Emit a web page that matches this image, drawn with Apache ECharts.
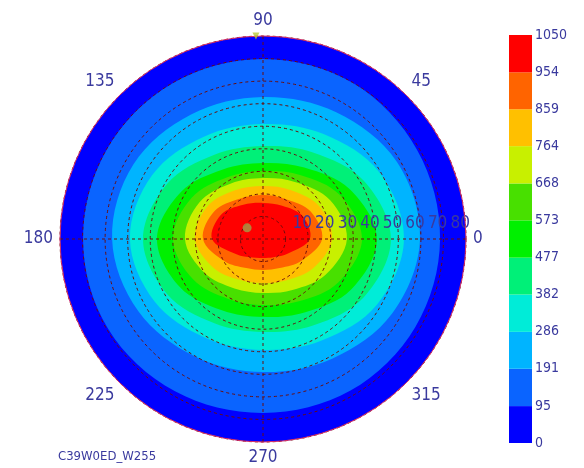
<!DOCTYPE html>
<html>
<head>
<meta charset="utf-8">
<script src="https://cdn.jsdelivr.net/npm/echarts@6/dist/echarts.min.js"></script>
<style>
html, body { margin: 0; background: #fff; }
#chart { width: 584px; height: 468px; }
</style>
</head>
<body>
<div id="chart"></div>
<script>
// angles (deg) at which each contour boundary was read
const contourAngles = [0, 30, 60, 90, 120, 150, 180, 210, 240, 270, 300, 330];

// lower value of each filled band, and the boundary radius (deg) of "value >= level"
const contourLevels = [0, 95, 191, 286, 382, 477, 573, 668, 764, 859, 954];
const edge0   = [90, 90, 90, 90, 90, 90, 90, 90, 90, 90, 90, 90];
const edge95  = [78.5, 78.9, 79.8, 79.8, 79.8, 79.8, 79.8, 79.4, 78.0, 77.1, 77.6, 78.0];
const edge191 = [69.6, 68.5, 64.9, 63.0, 63.8, 66.3, 66.9, 63.9, 60.2, 59.0, 61.3, 66.1];
const edge286 = [62.5, 59.4, 53.7, 51.0, 52.4, 56.7, 59.0, 55.5, 50.7, 49.2, 52.0, 58.3];
const edge382 = [56.7, 51.6, 44.3, 41.2, 43.1, 49.0, 53.2, 49.0, 43.1, 41.2, 44.3, 51.6];
const edge477 = [50.5, 44.3, 36.6, 33.7, 35.6, 41.9, 47.0, 42.6, 36.5, 34.6, 37.5, 45.0];
const edge573 = [43.9, 39.2, 32.8, 30.1, 31.6, 36.5, 39.9, 35.8, 30.7, 29.3, 31.9, 38.5];
const edge668 = [37.2, 34.4, 29.1, 27.0, 28.4, 32.5, 34.6, 30.0, 25.3, 23.9, 26.1, 31.9];
const edge764 = [30.6, 28.9, 25.0, 23.5, 24.9, 28.6, 30.1, 25.4, 20.9, 19.5, 21.1, 25.8];
const edge859 = [26.2, 24.4, 20.4, 19.5, 20.6, 24.8, 26.6, 19.7, 14.9, 13.7, 14.9, 19.5];
const edge954 = [20.8, 20.3, 17.0, 16.0, 17.5, 21.5, 22.6, 13.6, 9.5, 8.4, 9.3, 12.8];
const contourEdges = [edge0, edge95, edge191, edge286, edge382, edge477,
                      edge573, edge668, edge764, edge859, edge954];

// colour bar tick labels
const colorbarTicks = [0, 95, 191, 286, 382, 477, 573, 668, 764, 859, 954, 1050];

// peak marker [radius, angle] and the small mark on the rim
const peakPoint = [[8.6, 145]];
const rimMark = [[90, 92]];

const bandColors = ['#0000ff', '#0a64ff', '#00b4ff', '#00ecd8', '#00f078', '#00f000',
                    '#48e000', '#c8f000', '#ffc000', '#ff6400', '#ff0000'];

const txtColor = '#3a3a9e';
const txtFont = '"DejaVu Sans Condensed", "DejaVu Sans", sans-serif';
const gridDash = { color: '#6a0c0c', width: 1, type: [3, 3] };

const chart = echarts.init(document.getElementById('chart'));

const option = {
    animation: false,
    backgroundColor: '#fff',
    textStyle: { fontFamily: txtFont },
    graphic: [{
        type: 'text',
        left: 58,
        top: 450,
        style: { text: 'C39W0ED_W255', fill: txtColor, font: '13px ' + txtFont }
    }],
    polar: [
        { center: [263, 239], radius: 203 },
        { center: [263, 239], radius: 203 }
    ],
    angleAxis: [{
        polarIndex: 0,
        type: 'value', min: 0, max: 360, interval: 45,
        startAngle: 0, clockwise: false,
        z: 12,
        axisLine: { lineStyle: { color: '#d8306a', width: 1 } },
        axisTick: { show: false },
        splitLine: { show: false },
        axisLabel: {
            color: txtColor, fontSize: 17, fontFamily: txtFont, margin: 7,
            formatter: v => (v === 360 ? '' : String(v))
        }
    }, {
        polarIndex: 1,
        type: 'value', min: 0, max: 360, interval: 90,
        startAngle: 0, clockwise: false,
        z: 10,
        axisLine: { show: false },
        axisTick: { show: false },
        axisLabel: { show: false },
        splitLine: { show: true, lineStyle: gridDash }
    }],
    radiusAxis: [{
        polarIndex: 0,
        type: 'value', min: 0, max: 90,
        show: false
    }, {
        polarIndex: 1,
        type: 'value', min: 0, max: 90, interval: 10,
        z: 10,
        axisLine: { show: false },
        axisTick: { show: false },
        splitLine: { show: true, lineStyle: gridDash },
        axisLabel: {
            color: txtColor, fontSize: 17, fontFamily: txtFont, margin: 7,
            align: 'left', padding: [0, 0, 0, 7],
            formatter: v => (v === 0 || v === 90 ? '' : String(v))
        }
    }],
    grid: [{ left: 509, top: 35, width: 23, height: 408 }],
    xAxis: [{ gridIndex: 0, type: 'value', min: 0, max: 1, show: false }],
    yAxis: [{
        gridIndex: 0, type: 'value', min: 0, max: 1050, interval: 1050 / 11,
        position: 'right',
        axisLine: { show: false },
        axisTick: { show: false },
        splitLine: { show: false },
        axisLabel: {
            color: txtColor, fontSize: 14, fontFamily: txtFont, margin: 3,
            formatter: v => String(colorbarTicks[Math.round(v / (1050 / 11))])
        }
    }],
    series: [{
        // filled contour bands, outermost first
        type: 'custom',
        coordinateSystem: 'polar',
        polarIndex: 0,
        z: 1,
        silent: true,
        data: contourLevels.map(v => [0, 0, v]),
        renderItem: function (params, api) {
            const radii = contourEdges[params.dataIndex];
            const pts = contourAngles.map((a, j) => api.coord([radii[j], a]));
            return {
                type: 'polygon',
                shape: { points: pts, smooth: 0.35 },
                style: { fill: bandColors[params.dataIndex] }
            };
        }
    }, {
        type: 'scatter',
        coordinateSystem: 'polar',
        polarIndex: 0,
        z: 20,
        symbolSize: 9,
        itemStyle: { color: '#a0a048' },
        data: peakPoint
    }, {
        type: 'scatter',
        coordinateSystem: 'polar',
        polarIndex: 0,
        z: 20,
        symbol: 'triangle',
        symbolRotate: 180,
        symbolSize: 7,
        itemStyle: { color: '#b8c838' },
        data: rimMark
    }, {
        // colour bar
        type: 'custom',
        coordinateSystem: 'cartesian2d',
        xAxisIndex: 0,
        yAxisIndex: 0,
        silent: true,
        data: bandColors.map((c, i) => [0, colorbarTicks[i], colorbarTicks[i + 1]]),
        renderItem: function (params, api) {
            const p0 = api.coord([0, api.value(1)]);
            const p1 = api.coord([1, api.value(2)]);
            return {
                type: 'rect',
                shape: { x: p0[0], y: p1[1], width: p1[0] - p0[0], height: p0[1] - p1[1] },
                style: { fill: bandColors[params.dataIndex] }
            };
        }
    }]
};

chart.setOption(option);
</script>
</body>
</html>
